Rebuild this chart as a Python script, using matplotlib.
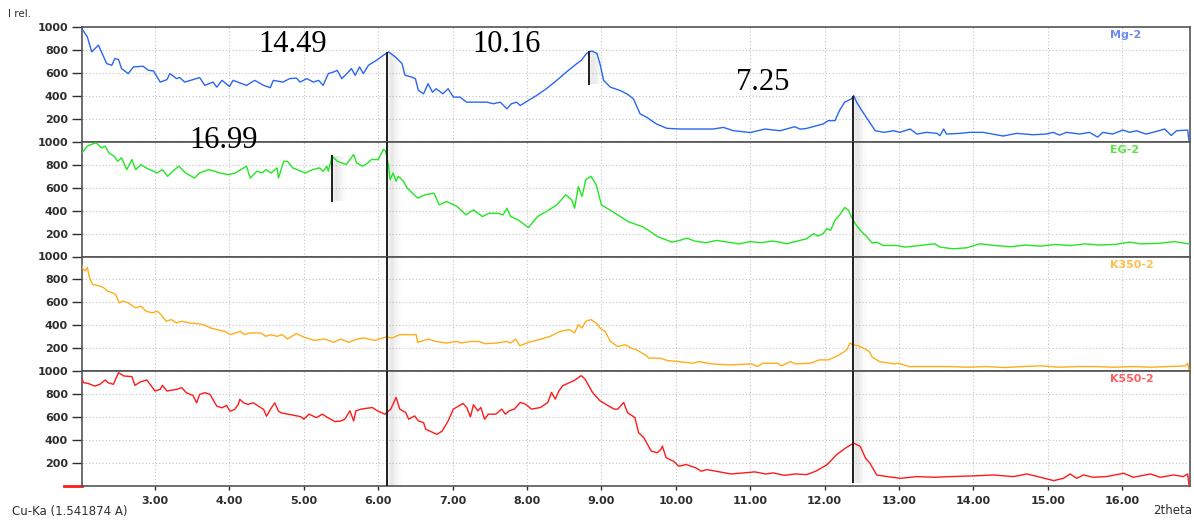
import matplotlib
matplotlib.use("Agg")
import matplotlib.pyplot as plt
import numpy as np

# ---------------- data ----------------
mg_x = [2.00, 2.09, 2.15, 2.24, 2.35, 2.42, 2.46, 2.51, 2.55, 2.64, 2.71, 2.84, 2.91, 2.98, 3.07, 3.16, 3.20,
        3.29, 3.33, 3.40, 3.60, 3.67, 3.78, 3.83, 3.90, 4.00, 4.05, 4.23, 4.34, 4.46, 4.55, 4.59, 4.72, 4.81,
        4.90, 4.95, 5.04, 5.13, 5.20, 5.26, 5.33, 5.40, 5.45, 5.51, 5.58, 5.64, 5.69, 5.75, 5.80, 5.87, 5.98,
        6.07, 6.14, 6.23, 6.32, 6.36, 6.45, 6.50, 6.54, 6.61, 6.67, 6.73, 6.78, 6.87, 6.94, 7.01, 7.10, 7.19,
        7.33, 7.46, 7.55, 7.64, 7.73, 7.79, 7.86, 7.91, 7.98, 8.13, 8.26, 8.40, 8.53, 8.67, 8.73, 8.80, 8.87,
        8.94, 8.98, 9.03, 9.12, 9.25, 9.34, 9.43, 9.52, 9.61, 9.74, 9.88, 10.06, 10.28, 10.50, 10.64, 10.77,
        11.00, 11.20, 11.40, 11.60, 11.67, 11.75, 11.98, 12.05, 12.14, 12.20, 12.27, 12.36, 12.39, 12.43,
        12.50, 12.59, 12.68, 12.80, 12.93, 13.01, 13.15, 13.24, 13.37, 13.51, 13.55, 13.60, 13.64, 13.82,
        13.95, 14.13, 14.40, 14.58, 14.80, 14.98, 15.07, 15.16, 15.25, 15.43, 15.56, 15.67, 15.74, 15.87,
        16.01, 16.10, 16.19, 16.32, 16.46, 16.57, 16.66, 16.73, 16.88, 16.90]
mg_y = [1000, 915, 783, 842, 681, 667, 725, 717, 638, 594, 652, 658, 623, 617, 520, 541, 594,
        550, 560, 520, 559, 491, 520, 476, 535, 482, 535, 491, 535, 491, 471, 535, 520, 550,
        555, 520, 550, 520, 535, 491, 594, 608, 622, 550, 594, 638, 579, 652, 594, 667, 711,
        754, 783, 739, 681, 579, 564, 550, 447, 418, 506, 432, 462, 418, 462, 389, 389, 345,
        345, 345, 331, 345, 287, 331, 345, 316, 345, 404, 462, 535, 608, 681, 710, 769, 792,
        770, 681, 535, 476, 447, 418, 375, 243, 213, 155, 117, 111, 111, 111, 125, 97,
        80, 111, 96, 131, 110, 115, 155, 184, 184, 272, 345, 374, 403, 345,
        272, 184, 96, 82, 96, 82, 111, 67, 82, 73, 53, 111, 67, 73,
        82, 82, 50, 73, 61, 67, 82, 58, 82, 67, 82, 40, 82, 67,
        102, 82, 96, 67, 90, 111, 55, 96, 102, 0]

eg_x = [2.02, 2.09, 2.14, 2.21, 2.28, 2.33, 2.38, 2.45, 2.50, 2.55, 2.62, 2.69, 2.74, 2.81, 2.88, 3.03, 3.10,
        3.17, 3.24, 3.32, 3.41, 3.53, 3.60, 3.72, 3.80, 3.87, 3.99, 4.08, 4.23, 4.28, 4.37, 4.44, 4.49, 4.56,
        4.64, 4.66, 4.73, 4.78, 4.85, 5.02, 5.12, 5.21, 5.26, 5.31, 5.33, 5.38, 5.45, 5.57, 5.67, 5.71, 5.79,
        5.86, 5.91, 6.00, 6.07, 6.10, 6.14, 6.16, 6.20, 6.24, 6.27, 6.34, 6.39, 6.53, 6.63, 6.75, 6.82, 6.92,
        7.06, 7.18, 7.28, 7.40, 7.49, 7.61, 7.68, 7.73, 7.78, 7.88, 8.02, 8.14, 8.26, 8.40, 8.52, 8.60, 8.64,
        8.69, 8.74, 8.79, 8.86, 8.93, 9.00, 9.22, 9.36, 9.55, 9.65, 9.75, 9.85, 9.95, 10.05, 10.15, 10.25,
        10.40, 10.55, 10.70, 10.85, 11.00, 11.15, 11.30, 11.40, 11.49, 11.67, 11.76, 11.85, 11.91, 11.98,
        12.03, 12.08, 12.14, 12.20, 12.27, 12.32, 12.36, 12.41, 12.48, 12.57, 12.64, 12.70, 12.79, 12.97,
        13.08, 13.28, 13.48, 13.55, 13.73, 13.91, 14.09, 14.30, 14.50, 14.70, 14.90, 15.10, 15.30, 15.50,
        15.70, 15.90, 16.10, 16.25, 16.50, 16.70, 16.90]
eg_y = [903, 962, 976, 991, 947, 962, 903, 874, 830, 860, 757, 845, 757, 801, 772, 728, 757,
        699, 743, 787, 728, 684, 728, 757, 743, 728, 713, 728, 787, 684, 743, 728, 757, 728,
        772, 684, 830, 830, 772, 728, 757, 772, 743, 787, 743, 874, 830, 801, 889, 815, 787,
        815, 845, 845, 933, 918, 787, 670, 728, 655, 699, 655, 596, 509, 538, 552, 450, 479,
        436, 363, 406, 348, 377, 377, 363, 421, 348, 319, 252, 348, 392, 450, 538, 494, 421,
        611, 523, 670, 699, 626, 450, 363, 304, 260, 220, 175, 150, 125, 140, 160, 135,
        120, 140, 125, 110, 130, 120, 135, 125, 111, 140, 155, 199, 178, 199,
        243, 228, 316, 360, 427, 404, 345, 287, 228, 170, 117, 125, 96, 96,
        82, 96, 111, 82, 67, 76, 111, 95, 85, 100, 90, 105, 95, 110,
        100, 105, 125, 110, 115, 130, 110]

k350_x = [2.00, 2.02, 2.06, 2.09, 2.12, 2.16, 2.26, 2.31, 2.36, 2.43, 2.47, 2.52, 2.57, 2.64, 2.74, 2.81, 2.88,
          2.96, 3.03, 3.08, 3.15, 3.22, 3.29, 3.36, 3.46, 3.56, 3.65, 3.75, 3.87, 3.94, 4.01, 4.08, 4.15,
          4.20, 4.28, 4.42, 4.49, 4.56, 4.64, 4.71, 4.78, 4.90, 5.00, 5.14, 5.28, 5.40, 5.50, 5.60, 5.72,
          5.81, 5.95, 6.10, 6.19, 6.29, 6.43, 6.51, 6.53, 6.68, 6.77, 6.92, 7.06, 7.11, 7.25, 7.35, 7.44,
          7.59, 7.73, 7.78, 7.85, 7.90, 8.02, 8.16, 8.31, 8.45, 8.57, 8.64, 8.69, 8.74, 8.79, 8.86, 8.93,
          8.98, 9.05, 9.12, 9.22, 9.32, 9.40, 9.47, 9.55, 9.59, 9.64, 9.79, 9.89, 10.04, 10.23, 10.31,
          10.48, 10.73, 11.02, 11.10, 11.17, 11.37, 11.42, 11.54, 11.61, 11.81, 11.93, 12.05, 12.20, 12.30,
          12.34, 12.38, 12.45, 12.52, 12.60, 12.64, 12.74, 12.94, 12.99, 13.14, 13.43, 13.68, 13.92, 14.17,
          14.42, 14.66, 14.91, 15.15, 15.40, 15.65, 15.89, 16.14, 16.38, 16.63, 16.85, 16.88, 16.90]
k350_y = [980, 900, 874, 903, 816, 757, 743, 728, 699, 684, 670, 596, 611, 596, 552, 567, 523,
          509, 523, 494, 436, 450, 421, 436, 421, 415, 406, 377, 357, 348, 319, 334, 348,
          319, 334, 334, 304, 319, 304, 319, 281, 328, 298, 269, 281, 252, 281, 252, 281,
          290, 269, 298, 290, 319, 319, 319, 252, 281, 260, 246, 260, 246, 260, 260, 240,
          246, 260, 246, 281, 222, 252, 275, 304, 348, 363, 334, 406, 377, 436, 450, 421,
          377, 348, 260, 216, 231, 202, 187, 158, 143, 114, 114, 93, 84, 70, 84,
          64, 55, 64, 41, 70, 70, 47, 84, 64, 70, 99, 99, 143, 187,
          246, 231, 222, 202, 172, 123, 84, 64, 70, 41, 41, 41, 35, 41,
          32, 41, 47, 35, 41, 41, 35, 41, 35, 41, 47, 70, 0]

k550_x = [2.01, 2.04, 2.10, 2.19, 2.26, 2.33, 2.37, 2.44, 2.51, 2.58, 2.69, 2.73, 2.80, 2.89, 3.00, 3.07, 3.10,
          3.16, 3.29, 3.36, 3.42, 3.51, 3.56, 3.60, 3.67, 3.74, 3.83, 3.90, 3.96, 4.01, 4.07, 4.12, 4.14,
          4.19, 4.25, 4.32, 4.39, 4.46, 4.50, 4.55, 4.61, 4.66, 4.70, 4.81, 4.93, 4.97, 5.00, 5.07, 5.17,
          5.25, 5.32, 5.42, 5.50, 5.55, 5.62, 5.67, 5.70, 5.77, 5.92, 5.99, 6.09, 6.17, 6.24, 6.29, 6.37,
          6.41, 6.49, 6.54, 6.61, 6.64, 6.79, 6.86, 6.94, 7.01, 7.14, 7.19, 7.24, 7.28, 7.34, 7.38, 7.43,
          7.48, 7.58, 7.66, 7.71, 7.76, 7.83, 7.91, 7.98, 8.06, 8.18, 8.28, 8.33, 8.38, 8.43, 8.48, 8.63,
          8.73, 8.78, 8.88, 8.98, 9.17, 9.22, 9.30, 9.35, 9.45, 9.50, 9.57, 9.67, 9.75, 9.80, 9.82, 9.87,
          9.97, 10.04, 10.14, 10.27, 10.34, 10.42, 10.54, 10.74, 10.91, 11.06, 11.21, 11.31, 11.46, 11.61,
          11.76, 11.88, 12.03, 12.16, 12.28, 12.39, 12.48, 12.55, 12.61, 12.70, 12.84, 13.02, 13.24, 13.47,
          13.69, 14.00, 14.27, 14.54, 14.72, 14.90, 15.08, 15.21, 15.30, 15.39, 15.48, 15.61, 15.79, 16.02,
          16.15, 16.38, 16.51, 16.69, 16.82, 16.88, 16.90]
k550_y = [944, 900, 894, 871, 886, 924, 900, 886, 988, 959, 953, 877, 906, 924, 828, 842, 877,
          828, 842, 857, 813, 789, 725, 798, 813, 798, 696, 681, 702, 652, 667, 711, 755,
          725, 711, 725, 696, 667, 608, 667, 725, 652, 637, 623, 608, 600, 582, 626, 596,
          626, 596, 561, 567, 582, 655, 567, 655, 670, 684, 655, 626, 670, 772, 670, 640,
          582, 611, 567, 552, 494, 450, 479, 567, 670, 719, 684, 602, 708, 655, 684, 582,
          626, 626, 670, 626, 655, 670, 728, 713, 670, 684, 728, 816, 757, 830, 874, 918,
          962, 932, 816, 743, 670, 670, 728, 640, 596, 465, 421, 304, 290, 319, 348, 246,
          216, 172, 187, 158, 129, 143, 129, 105, 114, 123, 105, 114, 93, 105,
          99, 129, 184, 272, 330, 374, 345, 242, 199, 96, 82, 67, 82, 76,
          82, 88, 96, 82, 105, 76, 47, 67, 105, 67, 96, 76, 82, 111,
          76, 105, 76, 96, 82, 105, 0]

series_names = ["Mg-2", "EG-2", "K350-2", "K550-2"]
x_ticks = [3, 4, 5, 6, 7, 8, 9, 10, 11, 12, 13, 14, 15, 16]
x_tick_labels = ["3.00", "4.00", "5.00", "6.00", "7.00", "8.00", "9.00", "10.00",
                 "11.00", "12.00", "13.00", "14.00", "15.00", "16.00"]
y_ticks = [200, 400, 600, 800, 1000]
y_tick_labels = ["200", "400", "600", "800", "1000"]

# marker lines: (position, [(y_from, y_to) per panel])
long_lines = [
    (6.12, [(0, 780), (0, 1000), (0, 1000), (0, 1000)]),
    (12.38, [(0, 400), (0, 1000), (0, 1000), (30, 1000)]),
]
short_lines = [(0, 8.83, 506, 783), (1, 5.38, 485, 874)]

peak_labels = ["14.49", "10.16", "7.25", "16.99"]
peak_label_px = [(293, 45), (507, 45), (763, 83), (224, 140)]

# ---------------- style ----------------
W, H = 1194, 521
fig = plt.figure(figsize=(W / 100, H / 100), dpi=100)
fig.patch.set_facecolor("white")

line_colors = ["#2a66f2", "#22e622", "#ffae1a", "#ff1a1a"]
label_colors = ["#6f8cf2", "#5ee04a", "#ffbf4d", "#ff6060"]
tick_color = "#2e2e2e"
spine_color = "#555555"

left_px, right_px = 82, 1190
top_px, bot_px = 27, 486
panel_h = (bot_px - top_px) / 4
x_lo = 3 + (left_px - 155) / 74.4
x_hi = 3 + (right_px - 155) / 74.4

data = [(mg_x, mg_y), (eg_x, eg_y), (k350_x, k350_y), (k550_x, k550_y)]
axes = []
for i in range(4):
    y_top = top_px + i * panel_h
    ax = fig.add_axes([left_px / W, 1 - (y_top + panel_h) / H,
                       (right_px - left_px) / W, panel_h / H])
    axes.append(ax)
    ax.set_xlim(x_lo, x_hi)
    ax.set_ylim(0, 1000)
    ax.set_xticks(x_ticks)
    ax.set_yticks(y_ticks)
    ax.set_yticklabels(y_tick_labels)
    ax.grid(True, color="#c4c4c4", linestyle=(0, (1, 2)), linewidth=0.8)
    ax.set_axisbelow(True)
    for s in ax.spines.values():
        s.set_color(spine_color)
        s.set_linewidth(1.2)
    ax.tick_params(axis="y", direction="out", length=7, width=1.0, color=tick_color,
                   pad=3, labelsize=8, labelcolor=tick_color)
    for lab in ax.get_yticklabels():
        lab.set_fontweight("bold")
    if i < 3:
        ax.tick_params(axis="x", length=0, labelbottom=False)
    else:
        ax.set_xticklabels(x_tick_labels)
        ax.tick_params(axis="x", direction="out", length=3, width=1.0, color=tick_color,
                       pad=4, labelsize=8, labelcolor=tick_color)
        for lab in ax.get_xticklabels():
            lab.set_fontweight("bold")
    xs, ys = data[i]
    ax.plot(xs, ys, color=line_colors[i], linewidth=1.0, zorder=3)
    fig.text(1110 / W, 1 - (y_top + 8) / H, series_names[i], color=label_colors[i],
             fontsize=8, fontweight="bold", ha="left", va="center")


def shade(ax, x0, y0, y1):
    alphas = [0.10, 0.16, 0.18, 0.15, 0.11, 0.07, 0.04, 0.02]
    step = 0.022
    for k, a in enumerate(alphas):
        ax.fill_betweenx([y0, y1], x0 + 0.01 + k * step, x0 + 0.01 + (k + 1) * step,
                         color="#808080", alpha=a, linewidth=0, zorder=2)


for xpos, spans in long_lines:
    for i, (y0, y1) in enumerate(spans):
        shade(axes[i], xpos, y0, y1)
        axes[i].plot([xpos, xpos], [y0, y1], color="#1e1e1e", linewidth=1.4,
                     zorder=5, solid_capstyle="butt")
for pi, xpos, y0, y1 in short_lines:
    shade(axes[pi], xpos, y0, y1)
    axes[pi].plot([xpos, xpos], [y0, y1], color="#1e1e1e", linewidth=1.4, zorder=5)

# small red tick at bottom-left
axes[3].plot([-0.016, 0.0], [0, 0], transform=axes[3].transAxes, color="#ff1a1a",
             linewidth=2, clip_on=False)

for txt, (px, py) in zip(peak_labels, peak_label_px):
    fig.text(px / W, 1 - py / H, txt, fontsize=22, family="Liberation Serif",
             ha="center", va="center", color="black", zorder=10)

fig.text(8 / W, 1 - 14 / H, "I rel.", fontsize=7.5, color=tick_color, ha="left", va="center")
fig.text(12 / W, 1 - 512 / H, "Cu-Ka (1.541874 A)", fontsize=8.5, color=tick_color,
         ha="left", va="center")
fig.text(1192 / W, 1 - 511 / H, "2theta", fontsize=8.5, color=tick_color, ha="right", va="center")

fig.savefig("out.png", dpi=100, facecolor="white")
